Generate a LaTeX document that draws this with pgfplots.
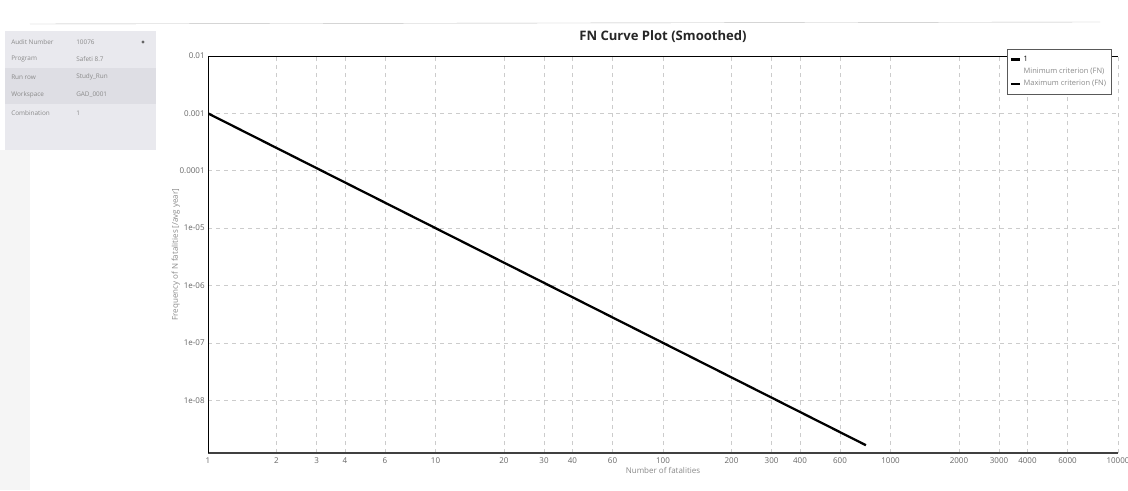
\documentclass[border=0pt]{standalone}
\usepackage{pgfplots}
\pgfplotsset{compat=1.18}
\usepackage{fontspec}
\setmainfont{Open Sans}
\definecolor{panelbg}{HTML}{E9E9EE}
\definecolor{panelrow}{HTML}{DEDEE4}
\definecolor{txtgray}{HTML}{8A8A8A}
\begin{document}
\begin{tikzpicture}
% page frame, 1128 x 490 px at 0.75pt per px
\path[fill=white, use as bounding box] (0,0) rectangle (846pt,367.5pt);

% info panel top left, drawn in px with y downwards
\begin{scope}[x=0.75pt, y=-0.75pt, yshift=367.5pt]
  \fill[black!4] (0,150) rectangle (30,490);
  \fill[panelbg] (5,31) rectangle (156,150);
  \fill[panelrow] (5,68) rectangle (156,104);
  \draw[black!25, line width=0.3pt] (30,24) -- (1100,22);
  \foreach \yy/\lab/\val in {42/Audit Number/10076, 59/Program/Safeti 8.7,
      77/Run row/Study\_Run, 95/Workspace/GAD\_0001, 113/Combination/1}{
    \node[anchor=west, font=\fontsize{4.8}{5}\selectfont, text=txtgray, inner sep=0pt] at (11,\yy) {\lab};
    \node[anchor=west, font=\fontsize{4.8}{5}\selectfont, text=txtgray, inner sep=0pt] at (76,\yy) {\val};
  }
  \fill[black!60] (143,42) circle (1.6);
  \node[font=\fontsize{9.8}{11}\bfseries\selectfont, text=black!85] at (663,37) {FN Curve Plot (Smoothed)};
\end{scope}

\begin{axis}[
    at={(156pt,27.75pt)}, anchor=south west,
    width=682.5pt, height=297.75pt, scale only axis,
    xmode=log, ymode=log,
    xmin=1, xmax=10000,
    ymin=1.2e-9, ymax=0.01,
    xtick={1,2,3,4,6,10,20,30,40,60,100,200,300,400,600,1000,2000,3000,4000,6000,10000},
    xticklabels={1,2,3,4,6,10,20,30,40,60,100,200,300,400,600,1000,2000,3000,4000,6000,10000},
    ytick={1e-8,1e-7,1e-6,1e-5,1e-4,1e-3,1e-2},
    yticklabels={1e-08,1e-07,1e-06,1e-05,0.0001,0.001,0.01},
    xminorticks=false, yminorticks=false,
    tick style={draw=none},
    /pgf/number format/assume math mode=true,
    ticklabel style={font=\fontsize{6}{7}\selectfont, text=black!60},
    xticklabel style={yshift=0pt},
    yticklabel style={xshift=1pt},
    grid=major,
    major grid style={gray!40, dashed, line width=0.4pt},
    axis line style={draw=none},
    xlabel={Number of fatalities},
    ylabel={Frequency of N fatalities [/avg year]},
    label style={font=\fontsize{6}{7}\selectfont, text=txtgray},
    xlabel style={yshift=4pt},
    ylabel style={yshift=-7pt},
    legend style={at={(0.993,1.018)}, anchor=north east,
        draw=black!65, line width=0.5pt, fill=white,
        font=\fontsize{5.6}{6.5}\selectfont, text=txtgray,
        row sep=-0.5pt, inner xsep=2pt, inner ysep=3pt},
    legend image code/.code={\draw[#1] (0cm,0cm) -- (0.24cm,0cm);},
    legend cell align=left,
]
\draw[black!75, line width=0.8pt] (rel axis cs:0,0) -- (rel axis cs:1,0);
\draw[gray!45, dashed, line width=0.5pt] (rel axis cs:1,0) -- (rel axis cs:1,1);
\draw[black, line width=1.3pt] (rel axis cs:0,0) -- (rel axis cs:0,1) -- (rel axis cs:1,1);
\addplot[black, line width=1.7pt] coordinates {
    (1, 1e-3)
    (780, 1.64e-9)
};
\addlegendentry{\textcolor{black}{1}}
\addlegendimage{white, line width=1.4pt}
\addlegendentry{Minimum criterion (FN)}
\addlegendimage{black, line width=1.4pt}
\addlegendentry{Maximum criterion (FN)}
\end{axis}
\end{tikzpicture}
\end{document}
